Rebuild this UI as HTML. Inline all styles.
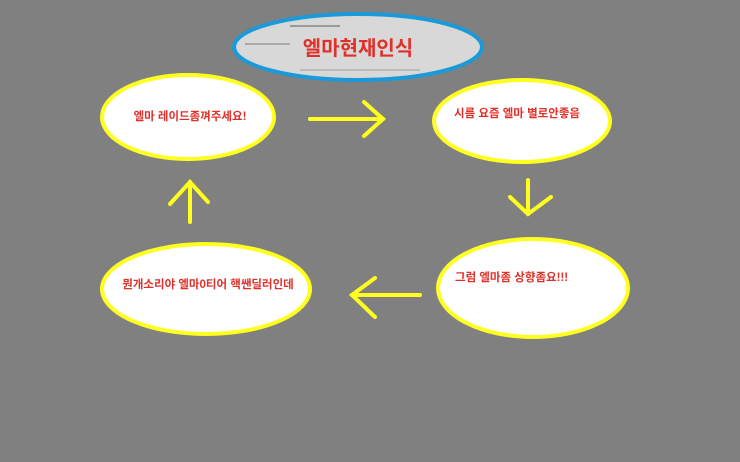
<!DOCTYPE html>
<html><head><meta charset="utf-8"><style>
html,body{margin:0;padding:0;background:#808080;}
svg{display:block}
text{font-family:"Liberation Sans","Noto Sans CJK KR",sans-serif;font-weight:bold;fill:#e0302a}
</style></head><body>
<svg width="740" height="462" viewBox="0 0 740 462">
<rect width="740" height="462" fill="#808080"/>
<ellipse cx="358" cy="47" rx="124" ry="33" fill="#d8d8d8" stroke="#1a9ad8" stroke-width="4"/>
<line x1="290" y1="26" x2="340" y2="26" stroke="#999" stroke-width="2"/>
<line x1="245" y1="44" x2="290" y2="44" stroke="#aaa" stroke-width="2"/>
<line x1="300" y1="70" x2="420" y2="70" stroke="#bbb" stroke-width="2"/>
<text x="358" y="55" font-size="20" text-anchor="middle" fill="#e8202a">엘마현재인식</text>

<ellipse cx="188" cy="117" rx="86" ry="42" fill="#fff" stroke="#ffff20" stroke-width="4"/>
<text x="190" y="120" font-size="11.5" text-anchor="middle">엘마 레이드좀껴주세요!</text>

<ellipse cx="522" cy="121" rx="88" ry="41" fill="#fff" stroke="#ffff20" stroke-width="4"/>
<text x="517" y="117" font-size="11.5" text-anchor="middle">시름 요즘 엘마 별로안좋음</text>

<ellipse cx="533" cy="288" rx="95" ry="49" fill="#fff" stroke="#ffff20" stroke-width="4"/>
<text x="455" y="281" font-size="11.5">그럼 엘마좀 상향좀요!!!</text>

<ellipse cx="206" cy="289" rx="104" ry="45" fill="#fff" stroke="#ffff20" stroke-width="4"/>
<text x="208" y="288" font-size="11.5" text-anchor="middle">뭔개소리야 엘마0티어 핵쌘딜러인데</text>

<g stroke="#ffff20" stroke-width="4" stroke-linecap="round" fill="none">
<line x1="310" y1="119" x2="383" y2="119"/>
<polyline points="364,102 383,119 364,136"/>
<line x1="528" y1="180" x2="528" y2="214"/>
<polyline points="510,197 528,214 551,197"/>
<line x1="420" y1="295" x2="352" y2="295"/>
<polyline points="375,278 352,295 375,317"/>
<line x1="190" y1="222" x2="190" y2="182"/>
<polyline points="170,204 190,182 208,202"/>
</g>
</svg>
</body></html>
